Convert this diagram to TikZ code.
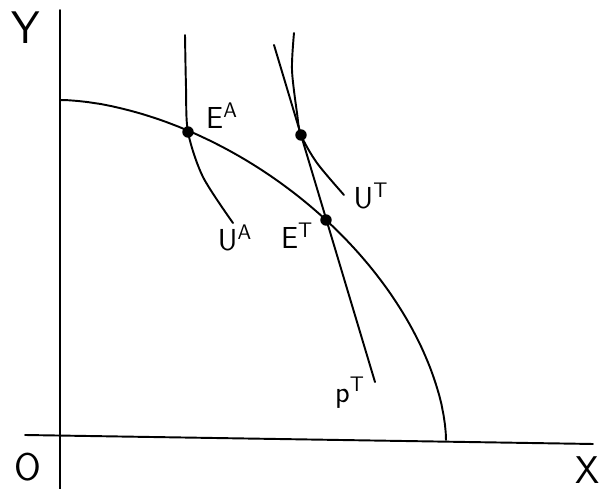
\documentclass[tikz,border=0pt]{standalone}
\usetikzlibrary{calc,arrows.meta,positioning}

\begin{document}
\begin{tikzpicture}[x=0.02cm,y=-0.02cm,>=Stealth,line join=round,line cap=round]
  \tikzset{curve/.style={line width=1.1pt},
    pt/.style={circle,fill,inner sep=0pt,minimum size=6.5pt},
    lbl/.style={font=\sffamily\fontsize{18}{20}\selectfont,inner sep=0pt}}
  \useasboundingbox (0,0) rectangle (606,489);
  % axes
  \coordinate (ytop) at (60,10);
  \coordinate (ybot) at (60,489);
  \coordinate (xleft) at (25,435);
  \coordinate (xright) at (593,444);
  \draw[curve] (ytop)--(ybot);
  \draw[curve] (xleft)--(xright);
  \node[lbl,font=\sffamily\fontsize{26}{28}\selectfont] (ylab) at (26,28){Y};
  \node[lbl,font=\sffamily\fontsize{22}{24}\selectfont] (olab) at (28,467){O};
  \node[lbl,font=\sffamily\fontsize{22}{24}\selectfont] (xlab) at (588,470){X};
  % frontier
  \draw[curve] plot[domain=0.02:89.98,samples=90,variable=\t]
    ({60+386*pow(cos(\t),1.163)},{440-340*pow(sin(\t),1.163)});
  % indifference curves
  \draw[curve] plot[smooth] coordinates{(185,35) (186,87) (188,132) (203,177) (233,223)};
  \draw[curve] plot[smooth] coordinates{(294,33) (292,70) (297,113) (301,135) (317,163) (344,195)};
  % price line
  \coordinate (ptop) at (274,45);
  \coordinate (pbot) at (375,382);
  \draw[curve] (ptop)--(pbot);
  \node[pt] (ea) at (188,132){};
  \node[pt] (ct) at (301,135){};
  \node[pt] (et) at (326,220){};
  \node[lbl] (ealab) at (222,116){$\mathsf{E}^{\mathsf{A}}$};
  \node[lbl] (etlab) at (297,236){$\mathsf{E}^{\mathsf{T}}$};
  \node[lbl] (ualab) at (235,238){$\mathsf{U}^{\mathsf{A}}$};
  \node[lbl] (utlab) at (371,196){$\mathsf{U}^{\mathsf{T}}$};
  \node[lbl] (ptlab) at (350,393){$\mathsf{p}^{\mathsf{T}}$};
\end{tikzpicture}
\end{document}
